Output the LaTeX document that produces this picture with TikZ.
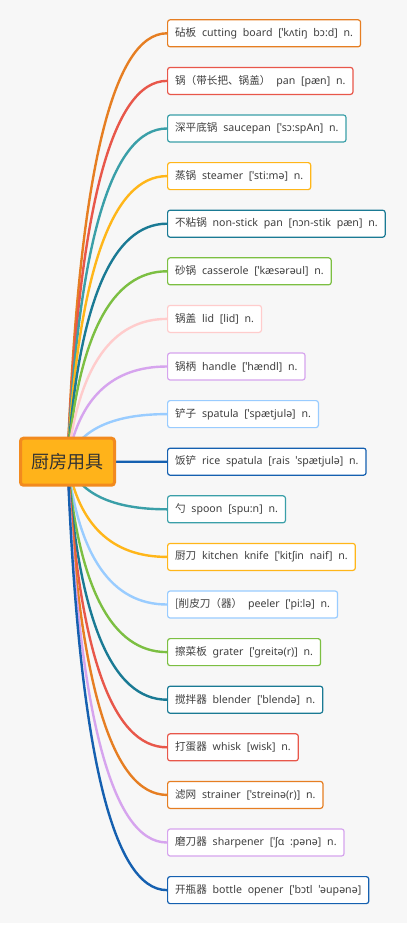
\documentclass[tikz,border=0pt]{standalone}
\usepackage{fontspec}
\setmainfont[WordSpace=2.1]{Noto Sans}
\newfontfamily\cjk{Noto Sans CJK SC}
\usetikzlibrary{calc, backgrounds}
\definecolor{mmorange}{HTML}{E67E22}
\definecolor{mmred}{HTML}{E8574A}
\definecolor{mmteal}{HTML}{3A9FA8}
\definecolor{mmyellow}{HTML}{FFB619}
\definecolor{mmdteal}{HTML}{1A7A94}
\definecolor{mmgreen}{HTML}{7CBF42}
\definecolor{mmpink}{HTML}{FFCCCC}
\definecolor{mmlilac}{HTML}{D6A4EE}
\definecolor{mmsky}{HTML}{99CCFF}
\definecolor{mmblue}{HTML}{1560B0}
\definecolor{canvas}{HTML}{F7F7F7}
\definecolor{inkgray}{HTML}{3F3F3F}
\definecolor{rootfill}{HTML}{FFB31A}
\definecolor{rootdraw}{HTML}{F28A1E}

\tikzset{
  toolbox/.style={draw=#1, line width=1.2pt, fill=white, rounded corners=2.5pt,
    anchor=west, minimum height=27pt, inner xsep=7.5pt, text=inkgray,
    font=\fontsize{10.6}{12}\selectfont},
  branch/.style={draw=#1, line width=2.4pt},
  hub/.style={fill=rootfill, draw=rootdraw, line width=3pt, rounded corners=3pt,
    minimum width=94pt, minimum height=47pt, text=black!80,
    font=\cjk\fontsize{18}{20}\selectfont}
}

\begin{document}
\begin{tikzpicture}[x=1pt, y=-1pt]
  \useasboundingbox (0,0) rectangle (410,929);
  \begin{scope}[on background layer]
    \fill[canvas] (0,0) rectangle (406.5,922.5);
  \end{scope}
  \node[hub] (root) at (67.5,461.7) {厨房用具};
  % one box and one branch per tool
  \foreach \col/\zh/\en [count=\i] in {
      mmorange/{砧板}/{cutting board [ˈkʌtiŋ bɔ:d] n.},
      mmred/{锅（带长把、锅盖）}/{pan [pæn] n.},
      mmteal/{深平底锅}/{saucepan [ˈsɔ:spAn] n.},
      mmyellow/{蒸锅}/{steamer [ˈsti:mə] n.},
      mmdteal/{不粘锅}/{non-stick pan [nɔn-stik pæn] n.},
      mmgreen/{砂锅}/{casserole [ˈkæsərəul] n.},
      mmpink/{锅盖}/{lid [lid] n.},
      mmlilac/{锅柄}/{handle [ˈhændl] n.},
      mmsky/{铲子}/{spatula [ˈspætjulə] n.},
      mmblue/{饭铲}/{rice spatula [rais ˈspætjulə] n.},
      mmteal/{勺}/{spoon [spu:n] n.},
      mmyellow/{厨刀}/{kitchen knife [ˈkitʃin naif] n.},
      mmsky/{[削皮刀（器）}/{peeler [ˈpi:lə] n.},
      mmgreen/{擦菜板}/{grater [ˈgreitə(r)] n.},
      mmdteal/{搅拌器}/{blender [ˈblendə] n.},
      mmred/{打蛋器}/{whisk [wisk] n.},
      mmorange/{滤网}/{strainer [ˈstreinə(r)] n.},
      mmlilac/{磨刀器}/{sharpener [ˈʃɑ :pənə] n.},
      mmblue/{开瓶器}/{bottle opener [ˈbɔtl ˈəupənə]}}{
    \node[toolbox=\col] (tool\i) at (167,{33.3+47.6*(\i-1)}) {{\cjk \zh}\ \en};
    \begin{scope}[on background layer]
      \draw[branch=\col] (root.center)
        .. controls ($(root.center)!0.667!(root.center |- tool\i.west)+(11,0)$)
        and ($(tool\i.west)+(-55,0)$) .. (tool\i.west);
    \end{scope}
  }
\end{tikzpicture}
\end{document}
